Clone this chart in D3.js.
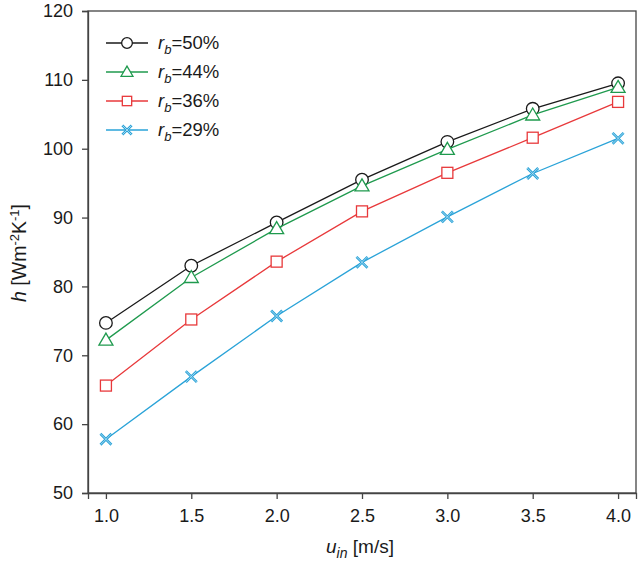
<!DOCTYPE html>
<html>
<head>
<meta charset="UTF-8">
<title>h vs u_in</title>
<script src="https://d3js.org/d3.v7.min.js"></script>
<style>
  body { margin: 0; background: #fff; }
  text { font-family: "Liberation Sans", Arial, sans-serif; fill: #1a1a1a; }
  .axis path, .axis line { stroke: #444; stroke-width: 1.3px; }
  .axis text { font-size: 18px; }
</style>
</head>
<body>
<script>
// ==== data ====
var speeds = [1.0, 1.5, 2.0, 2.5, 3.0, 3.5, 4.0];
var rb50 = [74.7, 83.0, 89.3, 95.5, 101.0, 105.8, 109.5];
var rb44 = [72.2, 81.3, 88.4, 94.6, 99.9, 104.9, 108.9];
var rb36 = [65.6, 75.2, 83.6, 90.9, 96.5, 101.6, 106.8];
var rb29 = [57.8, 66.9, 75.7, 83.5, 90.1, 96.4, 101.5];
var seriesNames = ["50%", "44%", "36%", "29%"];
var xTicks = [1.0, 1.5, 2.0, 2.5, 3.0, 3.5, 4.0];
var yTicks = [50, 60, 70, 80, 90, 100, 110, 120];

var series = [
  {name: seriesNames[0], values: rb50, color: "#1a1a1a", symbol: "circle"},
  {name: seriesNames[1], values: rb44, color: "#1f9a4e", symbol: "triangle"},
  {name: seriesNames[2], values: rb36, color: "#e8393b", symbol: "square"},
  {name: seriesNames[3], values: rb29, color: "#2aa3d8", symbol: "cross"}
];

// ==== layout ====
var width = 640, height = 572;
var margin = {top: 11, right: 4, bottom: 79, left: 88};
var plotW = width - margin.left - margin.right,
    plotH = height - margin.top - margin.bottom;

var svg = d3.select("body").append("svg")
    .attr("width", width)
    .attr("height", height);

var g = svg.append("g")
    .attr("transform", "translate(" + margin.left + "," + margin.top + ")");

var x = d3.scaleLinear().domain([0.895, 4.105]).range([0, plotW]);
var y = d3.scaleLinear().domain([50, 120]).range([plotH, 0]);

// frame
g.append("rect")
    .attr("width", plotW)
    .attr("height", plotH)
    .attr("fill", "none")
    .attr("stroke", "#444")
    .attr("stroke-width", 1.3);

// axes
g.append("g")
    .attr("class", "axis")
    .attr("transform", "translate(0," + plotH + ")")
    .call(d3.axisBottom(x).tickValues(xTicks).tickFormat(d3.format(".1f"))
          .tickSizeOuter(0).tickSize(6).tickPadding(10));

g.append("g")
    .attr("class", "axis")
    .call(d3.axisLeft(y).tickValues(yTicks).tickFormat(d3.format("d"))
          .tickSizeOuter(0).tickSize(6).tickPadding(9));

// symbols
function drawSymbol(sel, type, cx, cy, color, s) {
  if (type === "circle") {
    sel.append("circle").attr("cx", cx).attr("cy", cy).attr("r", 6.3 * s)
      .attr("fill", "#fff").attr("stroke", color).attr("stroke-width", 1.3);
  } else if (type === "triangle") {
    var r = 7 * s;
    sel.append("path")
      .attr("d", "M" + cx + "," + (cy - r) + "L" + (cx + r) + "," + (cy + r * 0.72) +
                 "L" + (cx - r) + "," + (cy + r * 0.72) + "Z")
      .attr("fill", "#fff").attr("stroke", color).attr("stroke-width", 1.3);
  } else if (type === "square") {
    var h = 5.5 * s;
    sel.append("rect").attr("x", cx - h).attr("y", cy - h)
      .attr("width", 2 * h).attr("height", 2 * h)
      .attr("fill", "#fff").attr("stroke", color).attr("stroke-width", 1.3);
  } else {
    var c = 5.5 * s;
    var d = "M" + (cx - c) + "," + (cy - c) + "L" + (cx + c) + "," + (cy + c) +
            "M" + (cx + c) + "," + (cy - c) + "L" + (cx - c) + "," + (cy + c);
    sel.append("path").attr("d", d)
      .attr("stroke", color).attr("stroke-width", 2.6).attr("fill", "none");
    sel.append("path").attr("d", d)
      .attr("stroke", "#bfe4f5").attr("stroke-width", 0.8).attr("fill", "none");
  }
}

var line = d3.line()
    .x(function(d, i) { return x(speeds[i]); })
    .y(function(d) { return y(d); });

series.forEach(function(s) {
  g.append("path")
    .datum(s.values)
    .attr("d", line)
    .attr("fill", "none")
    .attr("stroke", s.color)
    .attr("stroke-width", 1.3);
  var mg = g.append("g");
  s.values.forEach(function(v, i) {
    drawSymbol(mg, s.symbol, x(speeds[i]), y(v), s.color, 1);
  });
});

// legend
var legend = svg.append("g");
series.forEach(function(s, i) {
  var ly = 43 + i * 29;
  legend.append("line")
    .attr("x1", 106).attr("x2", 148)
    .attr("y1", ly).attr("y2", ly)
    .attr("stroke", s.color).attr("stroke-width", 1.3);
  drawSymbol(legend, s.symbol, 127, ly, s.color, 0.85);
  var t = legend.append("text")
    .attr("x", 158).attr("y", ly + 6)
    .style("font-size", "18.5px");
  t.append("tspan").style("font-style", "italic").text("r");
  t.append("tspan").attr("dy", 5).style("font-size", "13px").style("font-style", "italic").text("b");
  t.append("tspan").attr("dy", -5).text("=" + s.name);
});

// axis titles
var xt = svg.append("text")
    .attr("x", 360).attr("y", 553)
    .attr("text-anchor", "middle")
    .style("font-size", "19px");
xt.append("tspan").style("font-style", "italic").text("u");
xt.append("tspan").attr("dy", 5).style("font-size", "14px").style("font-style", "italic").text("in");
xt.append("tspan").attr("dy", -5).text(" [m/s]");

var yt = svg.append("text")
    .attr("transform", "translate(26,253) rotate(-90)")
    .attr("text-anchor", "middle")
    .style("font-size", "19.5px");
yt.append("tspan").style("font-style", "italic").text("h");
yt.append("tspan").text(" [Wm");
yt.append("tspan").attr("dy", -7).style("font-size", "13px").text("-2");
yt.append("tspan").attr("dy", 7).text("K");
yt.append("tspan").attr("dy", -7).style("font-size", "13px").text("-1");
yt.append("tspan").attr("dy", 7).text("]");
</script>
</body>
</html>
